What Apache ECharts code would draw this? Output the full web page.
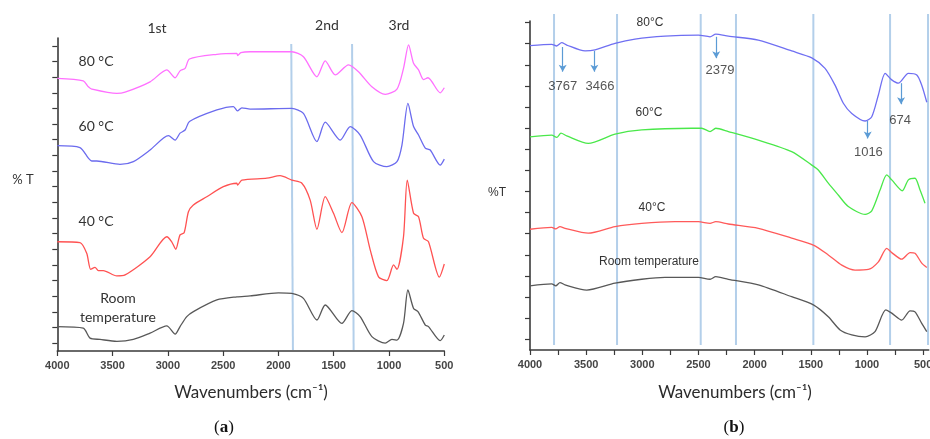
<!DOCTYPE html>
<html>
<head>
<meta charset="utf-8">
<script src="https://cdn.jsdelivr.net/npm/echarts@6/dist/echarts.min.js"></script>
<style>
html,body{margin:0;padding:0;background:#fff;}
#c{width:930px;height:439px;}
</style>
</head>
<body>
<div id="c"></div>
<script>
// ---------- DATA ----------
// Panel (a): [wavenumber cm-1, %T (arbitrary offset units)]
const a80 = [[4000,87.1],[3765,86.3],[3719,84.4],[3689,83.7],[3462,82.3],[3387,82.7],[3161,86.0],[3010,89.8],[2934,87.3],[2890,89.5],[2844,90.3],[2805,93.3],[2557,94.8],[2376,95.1],[2369,94.4],[2340,95.3],[2256,95.6],[1879,95.6],[1774,94.0],[1652,87.6],[1577,92.7],[1486,88.2],[1366,91.4],[1276,89.2],[1155,84.4],[1034,82.0],[928,83.7],[869,90.3],[823,97.8],[778,91.9],[733,89.8],[688,86.7],[648,87.3],[537,82.5],[500,84.1]];
const a60 = [[4000,65.6],[3795,65.0],[3719,61.6],[3689,60.7],[3643,60.7],[3433,59.6],[3312,60.5],[3161,64.2],[2995,68.8],[2934,67.4],[2890,69.6],[2844,70.6],[2805,73.3],[2557,77.0],[2407,78.1],[2371,76.7],[2331,77.7],[2256,77.3],[1879,77.5],[1774,75.9],[1652,66.9],[1577,73.1],[1441,67.4],[1351,71.7],[1261,69.0],[1140,60.5],[1019,58.9],[928,60.5],[883,65.8],[829,79.1],[778,71.7],[733,69.0],[672,64.8],[627,64.2],[537,59.4],[500,61.3]];
const a40 = [[4000,34.9],[3795,34.6],[3734,31.2],[3698,26.1],[3659,26.7],[3629,25.7],[3584,25.7],[3462,24.0],[3387,24.3],[3161,30.1],[3010,36.5],[2965,34.9],[2929,32.5],[2890,37.1],[2853,37.8],[2814,44.5],[2772,46.6],[2648,49.3],[2498,52.5],[2376,53.6],[2369,53.0],[2331,54.6],[2105,55.2],[1985,56.0],[1879,54.6],[1788,53.6],[1713,48.2],[1652,38.9],[1577,49.3],[1502,44.0],[1426,37.8],[1336,47.4],[1245,42.9],[1170,32.3],[1095,23.7],[1019,22.5],[959,27.5],[928,26.1],[869,36.5],[835,54.6],[778,44.0],[733,42.9],[688,36.0],[643,34.9],[545,23.6],[500,27.8]];
const aRT = [[4000,7.8],[3765,7.3],[3704,4.1],[3614,3.7],[3462,3.1],[3312,3.7],[3161,5.7],[3010,8.0],[2934,5.4],[2890,7.8],[2829,11.0],[2769,12.6],[2557,16.3],[2376,17.3],[2256,17.6],[2000,18.6],[1879,18.4],[1774,16.8],[1652,9.9],[1577,14.7],[1426,8.8],[1336,12.9],[1261,11.0],[1155,4.6],[1034,2.5],[974,3.7],[928,3.5],[869,8.8],[829,19.5],[778,13.6],[738,12.6],[672,8.3],[643,7.8],[537,3.3],[500,5.1]];
// Panel (a) reference lines: [top wavenumber, bottom wavenumber]
const aRefLines = [[1884,1869],[1334,1320]];

// Panel (b)
const b80 = [[4000,92.5],[3807,92.9],[3762,92.4],[3718,93.4],[3673,92.7],[3510,90.9],[3421,91.2],[3243,93.2],[3065,94.5],[2798,95.4],[2501,95.7],[2397,95.2],[2346,96.0],[2234,95.4],[1967,94.2],[1670,90.9],[1491,88.8],[1373,85.6],[1284,80.5],[1210,75.0],[1135,71.9],[1016,69.6],[957,70.9],[898,77.5],[838,84.1],[779,82.1],[720,81.1],[631,84.1],[556,83.6],[512,80.5],[467,75.3]];
const b60 = [[4000,64.8],[3807,65.3],[3762,64.6],[3724,65.9],[3673,65.1],[3481,62.8],[3243,65.6],[3005,66.9],[2560,67.4],[2471,67.4],[2397,66.4],[2346,67.4],[2234,66.4],[1967,63.8],[1670,60.3],[1491,56.2],[1433,54.7],[1344,50.7],[1255,47.1],[1166,43.6],[1016,41.2],[957,42.3],[883,48.6],[824,53.2],[779,51.7],[685,48.4],[631,51.7],[572,52.2],[527,48.6],[483,44.6]];
const b40 = [[4000,36.7],[3807,37.3],[3771,36.8],[3733,37.5],[3688,37.0],[3481,35.5],[3243,37.5],[3005,38.5],[2709,39.0],[2501,39.0],[2397,38.5],[2346,39.0],[2234,38.3],[1967,37.0],[1670,34.0],[1477,31.9],[1344,28.9],[1224,25.8],[1106,24.3],[987,24.5],[898,26.8],[824,30.9],[779,29.6],[690,27.6],[616,29.6],[572,29.4],[512,26.4],[467,25.1]];
const bRT = [[4000,19.5],[3807,20.1],[3771,19.5],[3733,20.5],[3688,19.8],[3495,18.2],[3243,20.3],[3005,21.5],[2798,22.1],[2501,22.1],[2397,21.5],[2346,22.3],[2234,21.5],[1967,19.8],[1670,16.2],[1477,13.7],[1344,10.1],[1239,6.1],[1135,4.6],[1016,4.0],[928,5.6],[832,12.2],[779,11.2],[690,9.1],[616,11.9],[572,11.6],[512,8.1],[467,5.6]];
const bRefLines = [3786,3225,2480,2166,1477,794,456];
// Peak arrows: label, x (wavenumber), arrow top, arrow bottom, label x, label y
const peakLabels = ['3767','3466','2379','1016','674'];
const peakArrowX = [3709,3427,2342,993,696];
const peakArrowTop = [92.1,90.9,95.2,69.6,81.1];
const peakArrowBottom = [84.6,84.6,88.7,64.3,74.7];
const peakLabelX = [3709,3377,2308,987,705];
const peakLabelY = [80.0,80.2,84.9,60.1,69.9];

// Axis ticks
const xLabelsA = [500,1000,1500,2000,2500,3000,3500,4000];
const xLabelsB = [500,1000,1500,2000,2500,3000,3500,4000];
const xTicksB = [500,750,1000,1250,1500,1750,2000,2250,2500,2750,3000,3250,3500,3750,4000];
const yTicksA = [2.5,7.5,12.5,17.5,22.5,27.5,32.5,37.5,42.5,47.5,52.5,57.5,62.5,67.5,72.5,77.5,82.5,87.5,92.5,97.5];
const yTicksB = [3.3,9.7,16.1,22.5,28.9,35.4,41.8,48.2,54.6,61.0,67.5,73.9,80.3,86.7,93.1,99.6];

// ---------- CHART ----------
const chart = echarts.init(document.getElementById('c'), null, {renderer:'canvas'});
const axisCol = '#3a3a3a';
const refCol = '#b3cfea';
const tickFont = {fontFamily:'"Liberation Sans", Arial, sans-serif', fontSize:11, fontWeight:'bold', color:'#454545'};

function spec(data, color, gi) {
  return {type:'line', xAxisIndex:gi, yAxisIndex:gi, data:data, showSymbol:false, symbol:'none',
    smooth:0.25, lineStyle:{color:color, width:1.3}, z:3, silent:true};
}
const series = [];
aRefLines.forEach(l => series.push({type:'line', xAxisIndex:0, yAxisIndex:0, data:[[l[0],98.1],[l[1],0.3]],
  symbol:'none', lineStyle:{color:refCol, width:2}, z:1, silent:true, clip:false}));
bRefLines.forEach(w => series.push({type:'line', xAxisIndex:1, yAxisIndex:1, data:[[w,102.1],[w,1.5]],
  symbol:'none', lineStyle:{color:refCol, width:2}, z:1, silent:true, clip:false}));
series.push(spec(a80,'#ff70ff',0));
series.push(spec(a60,'#6b6bee',0));
series.push(spec(a40,'#ff5252',0));
series.push(spec(aRT,'#585858',0));
const s80b = spec(b80,'#6f6ff2',1);
s80b.markLine = {silent:true, symbol:['none','arrow'], symbolSize:[6,7], animation:false,
  lineStyle:{color:'#5b9bd5', width:1.2, type:'solid'}, label:{show:false},
  data: peakArrowX.map((x,i)=>[{coord:[x,peakArrowTop[i]]},{coord:[x,peakArrowBottom[i]]}])};
series.push(s80b);
series.push(spec(b60,'#4ae84a',1));
series.push(spec(b40,'#ff5a5a',1));
series.push(spec(bRT,'#585858',1));
series.push({type:'scatter', xAxisIndex:1, yAxisIndex:1, symbolSize:1, itemStyle:{color:'rgba(0,0,0,0)'},
  silent:true, clip:false, z:5,
  data: peakLabels.map((t,i)=>({name:t, value:[peakLabelX[i], peakLabelY[i]]})),
  label:{show:true, position:'inside', formatter:'{b}', color:'#2a2a2a',
    fontFamily:'"Liberation Sans", Arial, sans-serif', fontSize:13}});

function txt(x,y,text,font,color,extra){
  return Object.assign({type:'text', x:x, y:y, silent:true, z:10,
    style:{text:text, font:font, fill:color||'#333', align:'center', verticalAlign:'middle'}}, extra||{});
}
const fA = '14px Lato, "Open Sans", sans-serif';
const fB = '12px "Liberation Sans", Arial, sans-serif';
const graphic = [
  txt(157,28,'1st',fA), txt(327,25,'2nd',fA), txt(399,25,'3rd',fA),
  txt(96,61,'80 °C',fA), txt(96,126,'60 °C',fA), txt(96,221,'40 °C',fA),
  txt(118,298,'Room',fA), txt(118,317,'temperature',fA),
  txt(23,180,'% T','13px Lato, "Open Sans", sans-serif'),
  txt(251,393,'Wavenumbers (cm⁻¹)','17px Lato, "Open Sans", sans-serif','#2b2b2b'),
  txt(650,23,'80°C',fB), txt(649,113,'60°C',fB), txt(652,208,'40°C',fB),
  txt(649,262,'Room temperature',fB),
  txt(497,193,'%T',fB),
  txt(735,393,'Wavenumbers (cm⁻¹)','17px Lato, "Open Sans", sans-serif','#2b2b2b'),
  {type:'text', x:224, y:428, silent:true, style:{text:'({b|a})', font:'17px "Liberation Serif", serif', fill:'#111', align:'center', verticalAlign:'middle',
    rich:{b:{fontWeight:'bold', fontSize:17, fontFamily:'"Liberation Serif", serif'}}}},
  {type:'text', x:734, y:428, silent:true, style:{text:'({b|b})', font:'17px "Liberation Serif", serif', fill:'#111', align:'center', verticalAlign:'middle',
    rich:{b:{fontWeight:'bold', fontSize:17, fontFamily:'"Liberation Serif", serif'}}}}
];

function xAxisDef(gi, min, labels, ticks){
  return {type:'value', gridIndex:gi, inverse:true, min:min, max:4000,
    axisLine:{show:true, onZero:false, lineStyle:{color:axisCol, width:1.6}},
    axisTick:{show:true, length:5, lineStyle:{color:axisCol, width:1.2}, customValues:ticks},
    axisLabel:Object.assign({show:true, margin:9, customValues:labels, formatter:v=>String(v), hideOverlap:false}, tickFont),
    splitLine:{show:false}};
}
function yAxisDef(gi, ticks){
  return {type:'value', gridIndex:gi, min:0, max:100,
    axisLine:{show:true, onZero:false, lineStyle:{color:axisCol, width:1.6}},
    axisTick:{show:true, length:5, lineStyle:{color:axisCol, width:1.2}, customValues:ticks},
    axisLabel:{show:false}, splitLine:{show:false}};
}

chart.setOption({
  animation:false,
  backgroundColor:'#ffffff',
  grid:[
    {left:57.3, top:38, width:387, height:313, containLabel:false, outerBoundsMode:'none'},
    {left:530, top:21, width:398.7, height:329, containLabel:false, outerBoundsMode:'none'}
  ],
  xAxis:[xAxisDef(0,500,xLabelsA,xLabelsA), xAxisDef(1,450,xLabelsB,xTicksB)],
  yAxis:[yAxisDef(0,yTicksA), yAxisDef(1,yTicksB)],
  series:series,
  graphic:graphic
});
</script>
</body>
</html>
